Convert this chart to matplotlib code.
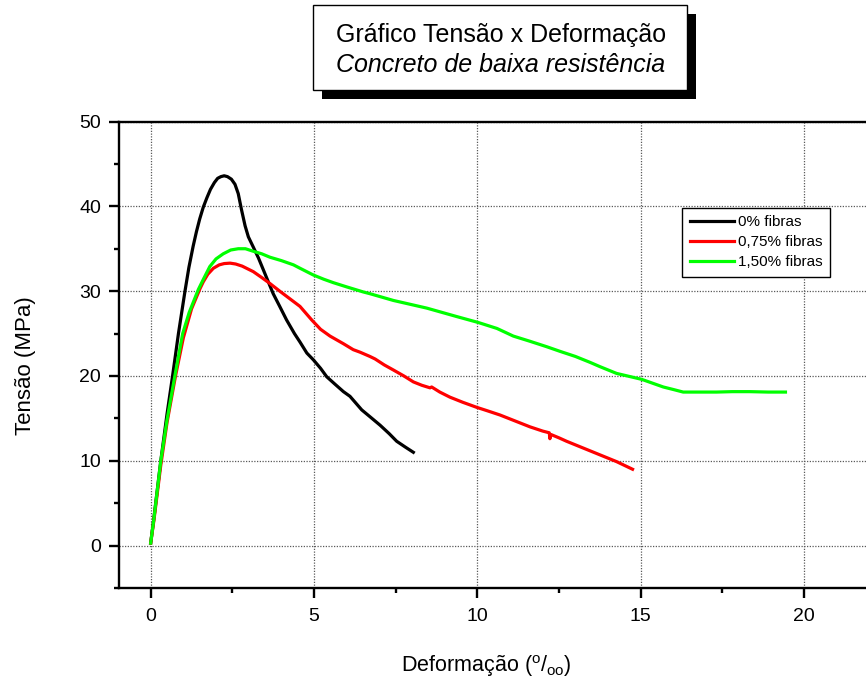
import matplotlib
matplotlib.use("Agg")
import matplotlib.pyplot as plt
from matplotlib.patches import Rectangle
from matplotlib.ticker import MultipleLocator

plt.rcParams['font.family'] = ['Liberation Sans', 'DejaVu Sans']
plt.rcParams['mathtext.fontset'] = 'custom'
plt.rcParams['mathtext.rm'] = 'Liberation Sans'
plt.rcParams['mathtext.it'] = 'Liberation Sans:italic'

# ---- data ----
series_labels = ["0% fibras", "0,75% fibras", "1,50% fibras"]
series_colors = ["#000000", "#ff0000", "#00ff00"]

x_0 = [0.0, 0.1, 0.31, 0.5, 0.67, 0.85, 1.05, 1.17, 1.30, 1.40, 1.50, 1.61, 1.72, 1.83,
       1.95, 2.05, 2.15, 2.25, 2.35, 2.47, 2.58, 2.68, 2.78, 2.89, 2.99, 3.14, 3.30, 3.45,
       3.75, 3.95, 4.16, 4.40, 4.57, 4.78, 4.98, 5.20, 5.39, 5.65, 5.90, 6.10, 6.46, 6.71,
       7.02, 7.30, 7.53, 7.80, 8.04]
y_0 = [0.3, 3.3, 10.0, 15.5, 20.0, 25.0, 30.0, 32.8, 35.3, 37.0, 38.5, 39.9, 41.0, 42.0,
       42.8, 43.3, 43.5, 43.6, 43.5, 43.2, 42.6, 41.5, 39.6, 37.7, 36.4, 35.2, 33.9, 32.5,
       29.7, 28.2, 26.6, 25.0, 24.0, 22.7, 21.9, 20.9, 19.9, 19.0, 18.15, 17.6, 16.0, 15.2,
       14.2, 13.2, 12.3, 11.6, 11.0]

x_075 = [0.0, 0.1, 0.31, 0.5, 0.76, 1.0, 1.25, 1.51, 1.61, 1.75, 1.92, 2.10, 2.25, 2.43,
         2.60, 2.80, 3.14, 3.40, 3.65, 3.95, 4.26, 4.57, 4.93, 5.20, 5.49, 5.90, 6.20, 6.41,
         6.71, 6.87, 7.15, 7.43, 7.75, 8.04, 8.30, 8.55, 8.60, 8.85, 9.16, 9.55, 9.98, 10.3,
         10.69, 11.15, 11.61, 12.0, 12.20, 12.22, 12.25, 12.5, 12.73, 13.24, 13.75, 14.26,
         14.75]
y_075 = [0.3, 3.0, 9.5, 14.5, 20.0, 24.5, 27.9, 30.3, 31.1, 32.0, 32.7, 33.1, 33.25, 33.3,
         33.2, 32.95, 32.3, 31.6, 30.9, 30.0, 29.1, 28.2, 26.6, 25.5, 24.7, 23.8, 23.1, 22.8,
         22.3, 22.0, 21.3, 20.7, 20.0, 19.3, 18.9, 18.6, 18.7, 18.1, 17.5, 16.9, 16.3, 15.9,
         15.4, 14.7, 14.0, 13.5, 13.3, 12.6, 13.1, 12.7, 12.3, 11.5, 10.7, 9.9, 9.0]

x_150 = [0.0, 0.1, 0.31, 0.5, 0.74, 0.98, 1.18, 1.46, 1.60, 1.81, 2.0, 2.22, 2.45, 2.68,
         2.90, 3.14, 3.40, 3.65, 4.0, 4.37, 4.57, 4.98, 5.30, 5.59, 6.0, 6.51, 6.71, 7.43,
         8.45, 9.37, 10.03, 10.6, 11.10, 11.6, 12.12, 12.53, 13.0, 13.45, 13.75, 14.26, 15.03,
         15.69, 16.0, 16.30, 16.8, 17.32, 17.8, 18.34, 18.9, 19.43]
y_150 = [0.3, 3.2, 10.0, 14.8, 20.0, 25.0, 27.5, 30.2, 31.3, 32.9, 33.8, 34.4, 34.85, 35.0,
         35.0, 34.7, 34.4, 34.0, 33.6, 33.1, 32.7, 31.9, 31.4, 31.0, 30.5, 29.9, 29.7, 28.9,
         28.0, 27.0, 26.3, 25.6, 24.7, 24.1, 23.45, 22.9, 22.3, 21.6, 21.1, 20.3, 19.6,
         18.7, 18.4, 18.1, 18.1, 18.1, 18.15, 18.15, 18.1, 18.1]

x_ticks = [0, 5, 10, 15, 20]
y_ticks = [0, 10, 20, 30, 40, 50]

title_line1 = "Gráfico Tensão x Deformação"
title_line2 = "Concreto de baixa resistência"
x_label = r"Deformação ($^{\mathrm{o}}$/$_{\mathrm{oo}}$)"
y_label = "Tensão (MPa)"

# ---- figure ----
W, H = 866, 684
fig = plt.figure(figsize=(W / 100, H / 100), dpi=100)

def fx(px):
    return px / W

def fy(py):
    return 1 - py / H

ax_left, ax_right, ax_top, ax_bottom = 118.5, 866, 121.5, 588
ax = fig.add_axes([fx(ax_left), fy(ax_bottom), fx(ax_right - ax_left), (ax_bottom - ax_top) / H])

for xs, ys, lab, col in zip([x_0, x_075, x_150], [y_0, y_075, y_150], series_labels, series_colors):
    ax.plot(xs, ys, color=col, lw=2.3, label=lab, solid_joinstyle='round')

ax.set_xlim(-0.985, -0.985 + (ax_right - ax_left) / 32.67)
ax.set_ylim(-5, 50)
ax.set_xticks(x_ticks)
ax.set_yticks(y_ticks)
ax.xaxis.set_minor_locator(MultipleLocator(2.5))
ax.yaxis.set_minor_locator(MultipleLocator(5))

ax.spines['right'].set_visible(False)
for s in ['left', 'bottom', 'top']:
    ax.spines[s].set_linewidth(1.7)

ax.tick_params(axis='both', which='major', direction='out', length=7.5, width=1.7,
               labelsize=14, pad=5)
ax.tick_params(axis='both', which='minor', direction='out', length=3.8, width=1.7)
ax.tick_params(axis='x', which='major', pad=7)
ax.tick_params(top=False, right=False, which='both')

ax.grid(True, which='major', color='#5a5a5a', linestyle=(0, (1, 1.2)), linewidth=0.9)
ax.set_axisbelow(True)

leg = fig.legend(loc='upper right', bbox_to_anchor=(fx(830), fy(207.5)),
                 bbox_transform=fig.transFigure, borderaxespad=0,
                 fontsize=11, frameon=True, fancybox=False, edgecolor='black',
                 framealpha=1, handlelength=2.9, handletextpad=0.25,
                 labelspacing=0.4, borderpad=0.5)
leg.get_frame().set_linewidth(1.0)
for l in leg.get_lines():
    l.set_linewidth(2.3)

# axis labels
fig.text(fx(486), fy(672), x_label, ha='center', va='baseline', fontsize=15.5)
fig.text(fx(25), fy(366), y_label, ha='center', va='center', rotation=90, fontsize=16)

# title box with shadow
bx0, bx1, by0, by1 = 313, 687, 5, 90
off = 9
fig.add_artist(Rectangle((fx(bx0 + off), fy(by1 + off)), fx(bx1 - bx0), (by1 - by0) / H,
                         transform=fig.transFigure, facecolor='black', edgecolor='black', lw=0))
fig.add_artist(Rectangle((fx(bx0), fy(by1)), fx(bx1 - bx0), (by1 - by0) / H,
                         transform=fig.transFigure, facecolor='white', edgecolor='black', lw=1.0))
fig.text(fx(501), fy(35), title_line1, ha='center', va='center', fontsize=18)
fig.text(fx(501), fy(65), title_line2, ha='center', va='center', fontsize=18, style='italic')

fig.savefig("out.png", dpi=100)
